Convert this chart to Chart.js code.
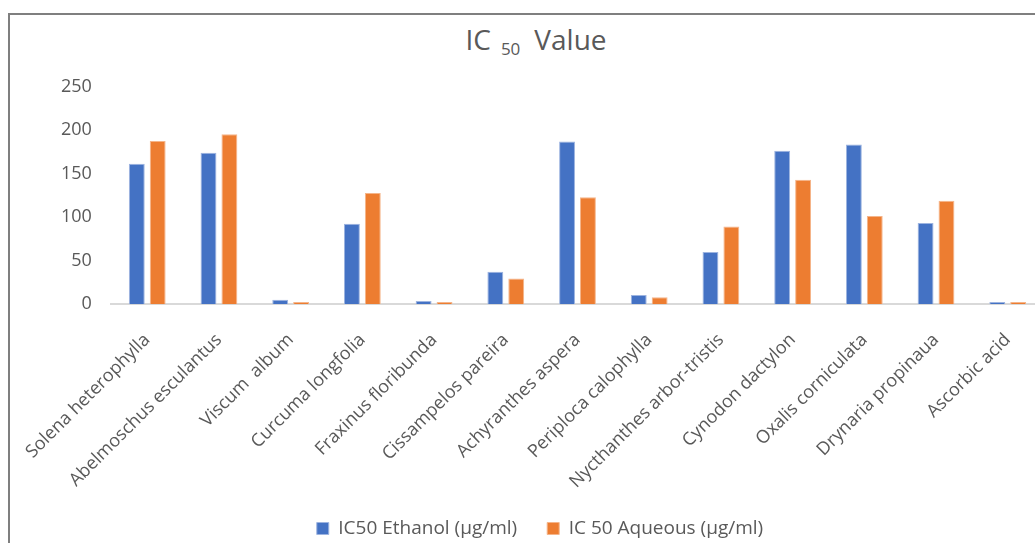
<!DOCTYPE html>
<html>
<head>
<meta charset="utf-8">
<script src="https://cdn.jsdelivr.net/npm/chart.js@4.4.1/dist/chart.umd.min.js"></script>
<style>
  html, body { margin: 0; padding: 0; background: #ffffff; overflow: hidden; width: 1035px; height: 543px; }
  #frame { position: absolute; left: 8px; top: 13px; width: 1100px; height: 600px; border-left: 2px solid #7f7f7f; border-top: 2px solid #7f7f7f; box-sizing: border-box; }
  #title { position: absolute; left: 0; top: 20px; width: 1072px; text-align: center; font-family: "Open Sans", sans-serif; font-size: 28px; color: #595959; white-space: nowrap; }
  #title sub { font-size: 17px; vertical-align: -5px; margin: 0 14px 0 10px; }
  #chart { position: absolute; left: 0; top: 0; }
</style>
</head>
<body>
<div id="frame"></div>
<div id="title">IC<sub>50</sub>Value</div>
<canvas id="chart" width="1048" height="548"></canvas>
<script>
// Plant extracts tested
const categories = [
  'Solena heterophylla',
  'Abelmoschus esculantus',
  'Viscum  album',
  'Curcuma longfolia',
  'Fraxinus floribunda',
  'Cissampelos pareira',
  'Achyranthes aspera',
  'Periploca calophylla',
  'Nycthanthes arbor-tristis',
  'Cynodon dactylon',
  'Oxalis corniculata',
  'Drynaria propinaua',
  'Ascorbic acid'
];

// IC50 of the ethanol extracts (µg/ml)
const ethanolIC50 = [161.5, 174, 5.3, 92.5, 3.8, 37.5, 187, 10.7, 60, 176.5, 183.5, 93.5, 2.7];

// IC50 of the aqueous extracts (µg/ml)
const aqueousIC50 = [187.5, 195.5, 2.7, 128, 2.7, 29.5, 123, 8, 89.5, 143, 101.5, 119, 2.7];

const seriesNames = ['IC50 Ethanol (µg/ml)', 'IC 50 Aqueous (µg/ml)'];
const yTicks = [0, 50, 100, 150, 200, 250];

const textColor = '#595959';
const font = 'Open Sans';

new Chart(document.getElementById('chart'), {
  type: 'bar',
  data: {
    labels: categories,
    datasets: [
      {
        label: seriesNames[0],
        data: ethanolIC50,
        backgroundColor: '#4472C4',
        borderColor: '#9db4e0',
        borderWidth: 1,
        categoryPercentage: 0.583,
        barPercentage: 0.76
      },
      {
        label: seriesNames[1],
        data: aqueousIC50,
        backgroundColor: '#ED7D31',
        borderColor: '#f5b58a',
        borderWidth: 1,
        categoryPercentage: 0.583,
        barPercentage: 0.76
      }
    ]
  },
  options: {
    responsive: false,
    animation: false,
    devicePixelRatio: 1,
    layout: { padding: { left: 32.5, right: 0.5, top: 86.7, bottom: 0 } },
    plugins: {
      title: { display: false },
      tooltip: { enabled: false },
      legend: {
        position: 'bottom',
        labels: {
          boxWidth: 12,
          boxHeight: 12,
          padding: 30,
          color: textColor,
          font: { family: font, size: 19 }
        }
      }
    },
    scales: {
      x: {
        grid: { display: false, drawTicks: false },
        border: { display: true, color: '#d9d9d9', width: 2 },
        ticks: {
          maxRotation: 45,
          minRotation: 45,
          padding: 25,
          color: textColor,
          font: { family: font, size: 18 }
        },
        afterFit: (scale) => { scale.height = 184.7; }
      },
      y: {
        min: 0,
        max: yTicks[yTicks.length - 1],
        afterBuildTicks: (scale) => { scale.ticks = yTicks.map(v => ({ value: v })); },
        grid: { display: false, drawTicks: false },
        border: { display: false },
        ticks: {
          padding: 19.5,
          color: textColor,
          font: { family: font, size: 18 }
        },
        afterFit: (scale) => { scale.width = 78; }
      }
    }
  }
});
</script>
</body>
</html>
